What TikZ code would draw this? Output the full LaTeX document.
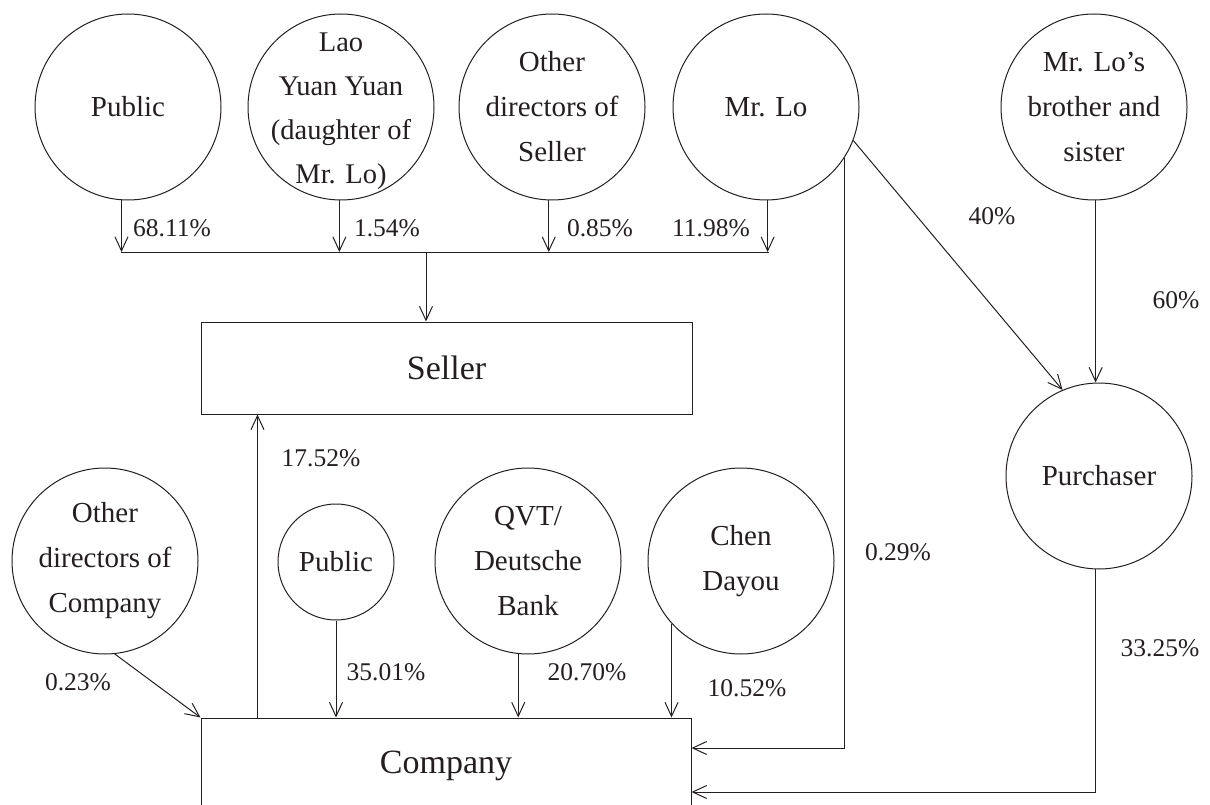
\documentclass[tikz,border=0pt]{standalone}
\usepackage{fontspec}
\setmainfont{Liberation Serif}
\usetikzlibrary{arrows.meta}
\definecolor{ink}{HTML}{231F20}
\begin{document}
\begin{tikzpicture}[x=1pt,y=-1pt,
  every node/.style={text=ink},
  ent/.style={circle,draw=ink,line width=1pt,minimum size=186pt,inner sep=0pt,align=center,font=\fontsize{29}{45}\selectfont},
  etext/.style={inner sep=0pt,align=center,font=\fontsize{28.5}{44}\selectfont},
  box/.style={rectangle,draw=ink,line width=1pt,inner sep=0pt,font=\fontsize{34}{40}\selectfont},
  pct/.style={font=\fontsize{25.5}{30}\selectfont,inner sep=0pt},
  conn/.style={draw=ink,line width=1pt},
  arr/.style={conn,-{Straight Barb[length=14pt,width=13pt,line width=1pt]}},
]
\useasboundingbox (0,0) rectangle (1210,805);

% top owners
\node[ent] (pub) at (128,107) {Public};
\node[ent] (lao) at (341,107) {};
\node[etext] (laotext) at (341,111) {Lao\\Yuan Yuan\\(daughter of\\Mr. Lo)};
\node[ent] (ods) at (552,107) {Other\\directors of\\Seller};
\node[ent] (lo) at (766,107) {Mr. Lo};
\node[ent] (bro) at (1094,107) {Mr. Lo's\\brother and\\sister};

% boxes
\node[box,minimum width=491pt,minimum height=92pt] (sel) at (446.5,368) {Seller};
\node[box,minimum width=490pt,minimum height=96pt] (co) at (446,766) {Company};

% purchaser
\node[ent] (pur) at (1099,476) {Purchaser};

% bottom owners
\node[ent] (odc) at (105,561) {Other\\directors of\\Company};
\node[ent,minimum size=116pt] (pub2) at (336,562) {Public};
\node[ent] (qvt) at (528,561) {QVT/\\Deutsche\\Bank};
\node[ent] (cd) at (741,561) {Chen\\Dayou};

% bus to seller
\coordinate (bl) at (121,252);
\coordinate (br) at (769,252);
\coordinate (bm) at (426,252);
\draw[conn] (bl) -- (br);
\draw[arr] (pub.266) -- (pub.266 |- bl);
\draw[arr] (lao.269) -- (lao.269 |- bl);
\draw[arr] (ods.268) -- (ods.268 |- bl);
\draw[arr] (lo.271) -- (lo.271 |- bl);
\draw[arr] (bm) -- (bm |- sel.north);

% Mr. Lo and family to purchaser
\draw[arr] (lo.-21) -- (pur.113);
\draw[arr] (bro.271) -- (bro.271 |- pur.north);

% company to seller
\draw[arr] ([xshift=57pt]co.north west) -- ([xshift=57pt]sel.south west);

% to company
\draw[arr] (odc.-84) -- (co.north west);
\draw[arr] (pub2.south) -- (pub2.south |- co.north);
\draw[arr] (qvt.264) -- (qvt.264 |- co.north);
\draw[arr] (cd.222) -- (cd.222 |- co.north);
\draw[arr] (lo.-33) |- ([yshift=18pt]co.east);
\draw[arr] (pur.268) |- ([yshift=-26pt]co.east);

% labels
\node[pct] (p1) at (172,228) {68.11\%};
\node[pct] (p2) at (387,228) {1.54\%};
\node[pct] (p3) at (600,228) {0.85\%};
\node[pct] (p4) at (711,228) {11.98\%};
\node[pct] (p5) at (992,216) {40\%};
\node[pct] (p6) at (1176,300) {60\%};
\node[pct] (p7) at (321,458) {17.52\%};
\node[pct] (p8) at (898,552) {0.29\%};
\node[pct] (p9) at (1160,648) {33.25\%};
\node[pct] (p10) at (78,682) {0.23\%};
\node[pct] (p11) at (386,672) {35.01\%};
\node[pct] (p12) at (587,672) {20.70\%};
\node[pct] (p13) at (747,688) {10.52\%};
\end{tikzpicture}
\end{document}
